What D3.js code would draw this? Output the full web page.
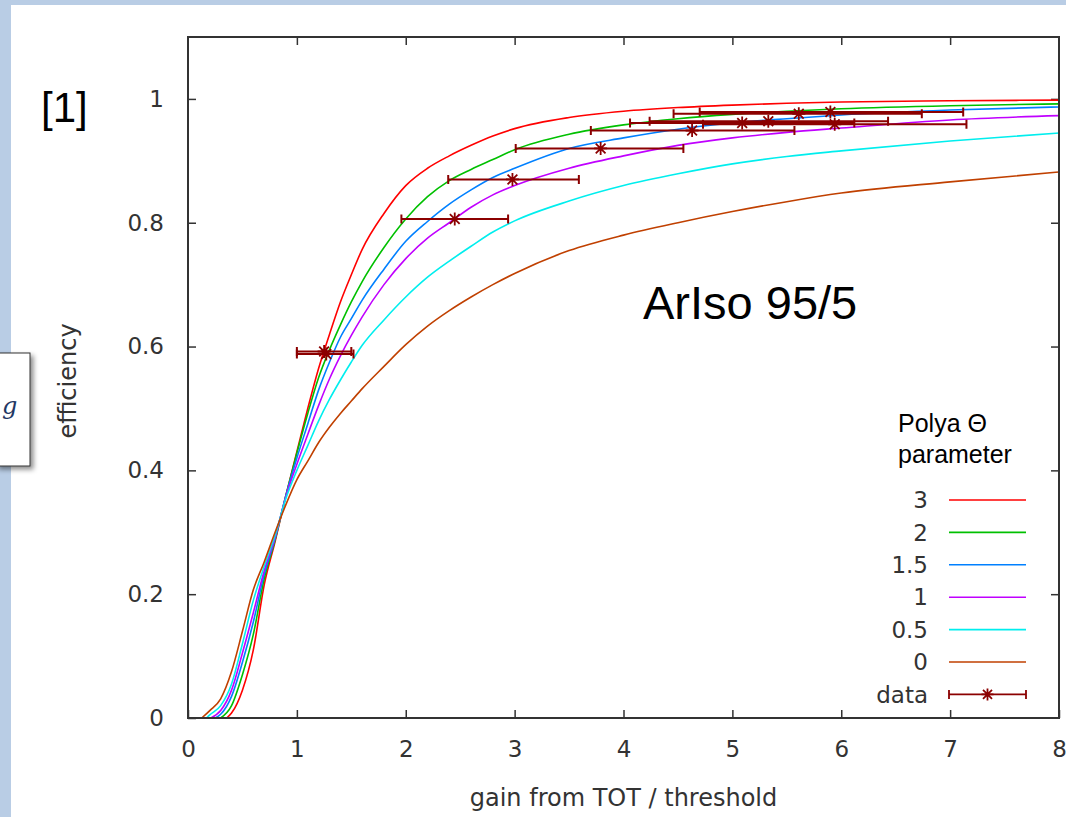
<!DOCTYPE html>
<html>
<head>
<meta charset="utf-8">
<script src="https://cdn.jsdelivr.net/npm/d3@7/dist/d3.min.js"></script>
<style>
  body { margin: 0; background: #fff; }
  svg { display: block; }
</style>
</head>
<body>
<svg id="chart" width="1066" height="817"></svg>
<script>
// shared gain grid for the Polya curves (gain / threshold)
const gainGrid = [0.2, 0.3, 0.4, 0.5, 0.6, 0.7, 0.8, 0.9, 1.0, 1.1, 1.2, 1.3, 1.4, 1.5, 1.6,
                  1.8, 2.0, 2.2, 2.4, 2.6, 2.8, 3.0, 3.5, 4.0, 4.5, 5.0, 5.5, 6.0, 7.0, 8.0];

const polyaLabels = ["3", "2", "1.5", "1", "0.5", "0"];
const polyaColors = ["#ff0000", "#00c000", "#0080ff", "#c000ff", "#00eeee", "#c04000"];
// where each curve leaves zero efficiency
const polyaStart = [0.355, 0.30, 0.25, 0.21, 0.17, 0.126];

const effTheta3   = [null, null, 0.008, 0.045, 0.11, 0.215, 0.285, 0.36, 0.43, 0.50, 0.565, 0.62, 0.672, 0.716, 0.757,
                     0.815, 0.86, 0.888, 0.908, 0.925, 0.94, 0.952, 0.97, 0.98, 0.986, 0.99, 0.993, 0.995, 0.997, 0.998];
const effTheta2   = [null, null, 0.02, 0.07, 0.135, 0.225, 0.288, 0.36, 0.428, 0.492, 0.55, 0.595, 0.635, 0.672, 0.705,
                     0.76, 0.806, 0.842, 0.868, 0.886, 0.902, 0.918, 0.943, 0.958, 0.968, 0.975, 0.98, 0.984, 0.989, 0.992];
const effTheta1_5 = [null, 0.006, 0.035, 0.09, 0.155, 0.232, 0.29, 0.36, 0.42, 0.475, 0.53, 0.575, 0.615, 0.645, 0.675,
                     0.725, 0.77, 0.802, 0.83, 0.853, 0.873, 0.888, 0.92, 0.937, 0.951, 0.961, 0.968, 0.974, 0.982, 0.987];
const effTheta1   = [null, 0.012, 0.045, 0.105, 0.17, 0.238, 0.292, 0.358, 0.41, 0.458, 0.505, 0.548, 0.585, 0.618, 0.648,
                     0.70, 0.742, 0.775, 0.80, 0.825, 0.845, 0.86, 0.888, 0.908, 0.925, 0.937, 0.946, 0.953, 0.966, 0.973];
const effTheta0_5 = [0.005, 0.02, 0.055, 0.12, 0.19, 0.245, 0.295, 0.355, 0.40, 0.44, 0.48, 0.515, 0.546, 0.575, 0.602,
                     0.643, 0.68, 0.712, 0.738, 0.762, 0.785, 0.803, 0.835, 0.86, 0.879, 0.895, 0.907, 0.916, 0.932, 0.945];
const effTheta0   = [0.012, 0.031, 0.075, 0.14, 0.207, 0.252, 0.30, 0.345, 0.385, 0.415, 0.445, 0.47, 0.492, 0.512, 0.532,
                     0.568, 0.603, 0.633, 0.658, 0.68, 0.70, 0.718, 0.755, 0.78, 0.80, 0.818, 0.834, 0.848, 0.866, 0.882];

// measured points with horizontal error bars
const dataGain     = [1.27, 1.25, 2.45, 2.98, 3.79, 4.63, 5.09, 5.33, 5.61, 5.90, 5.94];
const dataEff      = [0.588, 0.592, 0.806, 0.870, 0.920, 0.949, 0.961, 0.964, 0.976, 0.979, 0.959];
const dataGainLow  = [1.00, 1.00, 1.96, 2.39, 3.01, 3.70, 4.06, 4.24, 4.46, 4.70, 4.73];
const dataGainHigh = [1.52, 1.50, 2.94, 3.59, 4.55, 5.57, 6.12, 6.43, 6.74, 7.12, 7.15];

const xTicks = [0, 1, 2, 3, 4, 5, 6, 7, 8];
const yTicks = [0, 0.2, 0.4, 0.6, 0.8, 1];

const svg = d3.select("#chart");

// slide background bits
svg.append("rect").attr("width", 1066).attr("height", 817).attr("fill", "#fff");
svg.append("rect").attr("x", 0).attr("y", 0).attr("width", 1066).attr("height", 5).attr("fill", "#b9cde5");
svg.append("rect").attr("x", 0).attr("y", 0).attr("width", 11).attr("height", 817).attr("fill", "#b9cde5");

const defs = svg.append("defs");
const shadow = defs.append("filter").attr("id", "shadow").attr("x", "-20%").attr("y", "-20%")
    .attr("width", "150%").attr("height", "150%");
shadow.append("feDropShadow").attr("dx", 3).attr("dy", 3).attr("stdDeviation", 2.5)
    .attr("flood-color", "#000").attr("flood-opacity", 0.45);

// the cut-off formula box on the left
svg.append("rect")
    .attr("x", -4).attr("y", 353).attr("width", 34).attr("height", 113)
    .attr("fill", "#fff").attr("stroke", "#333").attr("stroke-width", 1)
    .attr("filter", "url(#shadow)");
svg.append("text")
    .attr("x", 2).attr("y", 414)
    .style("font-family", "'DejaVu Serif', serif")
    .style("font-style", "italic")
    .style("font-size", "24px")
    .attr("fill", "#1f3864")
    .text("g");

svg.append("text")
    .attr("x", 41).attr("y", 122)
    .style("font-family", "'Liberation Sans', Arial, sans-serif")
    .style("font-size", "42px")
    .attr("fill", "#000")
    .text("[1]");

const plotLeft = 188, plotRight = 1059, plotTop = 37, plotBottom = 718;

const x = d3.scaleLinear().domain([0, 8]).range([plotLeft, plotRight]);
const y = d3.scaleLinear().domain([0, 1.1]).range([plotBottom, plotTop]);

const axisFont = "'DejaVu Sans', sans-serif";

const styleAxis = (g) => {
  g.select(".domain").remove();
  g.selectAll(".tick line").attr("stroke", "#333").attr("stroke-width", 1.5);
  g.selectAll(".tick text")
      .attr("fill", "#333")
      .style("font-family", axisFont)
      .style("font-size", "23px");
};

svg.append("g")
    .attr("transform", `translate(0,${plotBottom})`)
    .call(d3.axisBottom(x).tickValues(xTicks).tickSize(-8).tickPadding(23).tickFormat(d3.format("d")))
    .call(styleAxis);

svg.append("g")
    .attr("transform", `translate(0,${plotTop})`)
    .call(d3.axisTop(x).tickValues(xTicks.slice(1, -1)).tickSize(-8).tickFormat(""))
    .call(styleAxis);

svg.append("g")
    .attr("transform", `translate(${plotLeft},0)`)
    .call(d3.axisLeft(y).tickValues(yTicks).tickSize(-8).tickPadding(24).tickFormat(d3.format("~g")))
    .call(styleAxis);

svg.append("g")
    .attr("transform", `translate(${plotRight},0)`)
    .call(d3.axisRight(y).tickValues(yTicks.slice(1)).tickSize(-8).tickFormat(""))
    .call(styleAxis);

// axis titles
svg.append("text")
    .attr("x", (plotLeft + plotRight) / 2).attr("y", 806)
    .attr("text-anchor", "middle")
    .attr("fill", "#333")
    .style("font-family", axisFont)
    .style("font-size", "24px")
    .text("gain from TOT / threshold");

svg.append("text")
    .attr("transform", "translate(76,381) rotate(-90)")
    .attr("text-anchor", "middle")
    .attr("fill", "#333")
    .style("font-family", axisFont)
    .style("font-size", "24px")
    .text("efficiency");

// curves
const allCurves = [effTheta3, effTheta2, effTheta1_5, effTheta1, effTheta0_5, effTheta0];

const curveData = allCurves.map((vals, i) => {
  const pts = [{ g: polyaStart[i], e: 0 }];
  vals.forEach((v, j) => { if (v !== null) pts.push({ g: gainGrid[j], e: v }); });
  return { label: polyaLabels[i], color: polyaColors[i], points: pts };
});

const line = d3.line()
    .x(d => x(d.g))
    .y(d => y(d.e))
    .curve(d3.curveMonotoneX);

const plot = svg.append("g");

plot.selectAll("path.polya")
    .data(curveData)
    .enter().append("path")
      .attr("class", "polya")
      .attr("d", d => line(d.points))
      .attr("fill", "none")
      .attr("stroke", d => d.color)
      .attr("stroke-width", 1.6);

// data with error bars
const dataColor = "#8b0000";
const points = dataGain.map((g, i) => ({
  g: g, e: dataEff[i], lo: dataGainLow[i], hi: dataGainHigh[i]
}));

const drawStar = (sel, s) => {
  sel.append("path")
    .attr("d", `M${-s},0H${s}M0,${-s}V${s}M${-s * 0.75},${-s * 0.75}L${s * 0.75},${s * 0.75}M${-s * 0.75},${s * 0.75}L${s * 0.75},${-s * 0.75}`)
    .attr("stroke", dataColor)
    .attr("stroke-width", 1.8)
    .attr("fill", "none");
};

const errs = plot.selectAll("g.err")
    .data(points)
    .enter().append("g")
      .attr("class", "err");

errs.append("path")
    .attr("d", d => {
      const yy = y(d.e), x1 = x(d.lo), x2 = x(d.hi);
      return `M${x1},${yy}H${x2}M${x1},${yy - 4.5}V${yy + 4.5}M${x2},${yy - 4.5}V${yy + 4.5}`;
    })
    .attr("stroke", dataColor)
    .attr("stroke-width", 2)
    .attr("fill", "none");

errs.append("g")
    .attr("transform", d => `translate(${x(d.g)},${y(d.e)})`)
    .call(drawStar, 6.5);

// annotation
svg.append("text")
    .attr("x", 643).attr("y", 319)
    .style("font-family", "'Liberation Sans', Arial, sans-serif")
    .style("font-size", "47px")
    .attr("fill", "#000")
    .text("ArIso 95/5");

// legend
svg.append("text")
    .attr("x", 898).attr("y", 432)
    .style("font-family", "'Liberation Sans', Arial, sans-serif")
    .style("font-size", "25px")
    .attr("fill", "#000")
    .text("Polya \u0398");
svg.append("text")
    .attr("x", 898).attr("y", 463)
    .style("font-family", "'Liberation Sans', Arial, sans-serif")
    .style("font-size", "25px")
    .attr("fill", "#000")
    .text("parameter");

const legendY = (i) => 500 + i * 32.4;
const legendX1 = 949, legendX2 = 1026;

const legend = svg.append("g");

const items = legend.selectAll("g.item")
    .data(curveData)
    .enter().append("g")
      .attr("class", "item")
      .attr("transform", (d, i) => `translate(0,${legendY(i)})`);

items.append("text")
    .attr("x", 928).attr("dy", "0.36em")
    .attr("text-anchor", "end")
    .attr("fill", "#333")
    .style("font-family", axisFont)
    .style("font-size", "23px")
    .text(d => d.label);

items.append("line")
    .attr("x1", legendX1).attr("x2", legendX2)
    .attr("stroke", d => d.color)
    .attr("stroke-width", 1.6);

const dataItem = legend.append("g")
    .attr("transform", `translate(0,${legendY(6)})`);
dataItem.append("text")
    .attr("x", 928).attr("dy", "0.36em")
    .attr("text-anchor", "end")
    .attr("fill", "#333")
    .style("font-family", axisFont)
    .style("font-size", "23px")
    .text("data");
dataItem.append("path")
    .attr("d", `M${legendX1},0H${legendX2}M${legendX1},-4.5V4.5M${legendX2},-4.5V4.5`)
    .attr("stroke", dataColor)
    .attr("stroke-width", 1.8)
    .attr("fill", "none");
dataItem.append("g")
    .attr("transform", `translate(${(legendX1 + legendX2) / 2},0)`)
    .call(drawStar, 6);

// plot border on top
svg.append("rect")
    .attr("x", plotLeft).attr("y", plotTop)
    .attr("width", plotRight - plotLeft).attr("height", plotBottom - plotTop)
    .attr("fill", "none")
    .attr("stroke", "#333")
    .attr("stroke-width", 2);
</script>
</body>
</html>
